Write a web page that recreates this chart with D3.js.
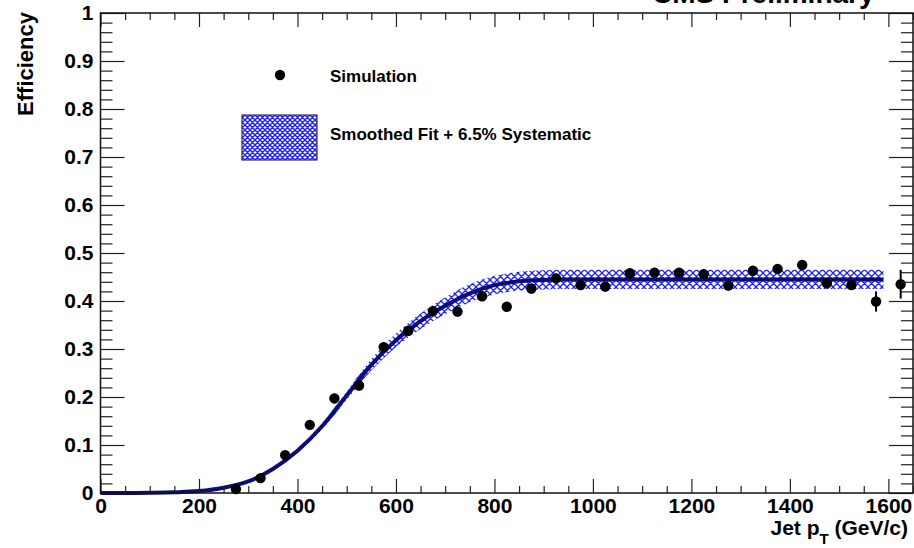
<!DOCTYPE html>
<html><head><meta charset="utf-8">
<script src="https://cdn.jsdelivr.net/npm/d3@7"></script>
<style>
html,body{margin:0;padding:0;background:#fff;}
svg text{font-family:"Liberation Sans",Arial,Helvetica,sans-serif;font-weight:bold;fill:#000;}
</style></head>
<body>
<svg id="c" width="914" height="548"></svg>
<script>
// ---- data ----
const simPt   = [275,325,375,425,475,525,575,625,675,725,775,825,875,925,975,1025,1075,1125,1175,1225,1275,1325,1375,1425,1475,1525,1575,1625];
const simEff  = [0.008,0.031,0.079,0.142,0.197,0.224,0.304,0.338,0.379,0.378,0.410,0.388,0.426,0.447,0.433,0.430,0.458,0.459,0.459,0.456,0.432,0.463,0.467,0.475,0.437,0.433,0.399,0.435];
const simErr  = [0.004,0.006,0.008,0.009,0.010,0.010,0.010,0.010,0.010,0.010,0.010,0.010,0.010,0.010,0.010,0.010,0.010,0.010,0.010,0.010,0.010,0.010,0.010,0.010,0.010,0.010,0.021,0.030];
const fitPt   = [0,50,100,150,200,250,300,350,400,450,500,550,600,650,700,750,800,850,900,950,1000,1100,1200,1300,1400,1500,1590];
const fitEff  = [0,0,0.0005,0.0015,0.004,0.011,0.024,0.050,0.088,0.139,0.203,0.267,0.318,0.358,0.390,0.416,0.433,0.441,0.444,0.445,0.445,0.445,0.445,0.445,0.445,0.445,0.445];
const bandRel = 0.045; // half-width of the hatched band, relative to the fit
const xMajor  = [0,200,400,600,800,1000,1200,1400,1600];
const yMajor  = [0,0.1,0.2,0.3,0.4,0.5,0.6,0.7,0.8,0.9,1];
const yLabels = ["0","0.1","0.2","0.3","0.4","0.5","0.6","0.7","0.8","0.9","1"];
const legendLabels = ["Simulation","Smoothed Fit + 6.5% Systematic"];

const svg = d3.select("#c");
const L=100.5, R=913, T=13, B=493;
const x = d3.scaleLinear().domain([0,1650]).range([L,R]);
const y = d3.scaleLinear().domain([0,1]).range([B,T]);

const defs = svg.append("defs");
function hatch(id, s, w){
  const p = defs.append("pattern").attr("id",id).attr("patternUnits","userSpaceOnUse")
    .attr("width",s).attr("height",s);
  p.append("rect").attr("width",s).attr("height",s).attr("fill","#fff");
  p.append("path").attr("d",`M0,0L${s},${s}M${s},0L0,${s}M${-s/2},${s/2}L${s/2},${s*1.5}M${s/2},${-s/2}L${s*1.5},${s/2}`)
    .attr("stroke","#1f1fff").attr("stroke-width",w).attr("fill","none");
}
hatch("hatchBand",7,1.3);
hatch("hatchLeg",5,1.4);

const fitData = fitPt.map((p,i)=>({p, e:fitEff[i]}));
const curve = d3.curveMonotoneX;

// band
svg.append("path").datum(fitData)
  .attr("d", d3.area().curve(curve).x(d=>x(d.p)).y0(d=>y(d.e*(1-bandRel))).y1(d=>y(d.e*(1+bandRel))))
  .attr("fill","url(#hatchBand)").attr("stroke","none");

// fit line
svg.append("path").datum(fitData)
  .attr("d", d3.line().curve(curve).x(d=>x(d.p)).y(d=>y(d.e)))
  .attr("fill","none").attr("stroke","#0c0c78").attr("stroke-width",4);

// simulation points
const sim = simPt.map((p,i)=>({p,e:simEff[i],err:simErr[i]}));
svg.append("g").selectAll("line").data(sim).join("line")
  .attr("x1",d=>x(d.p)).attr("x2",d=>x(d.p))
  .attr("y1",d=>y(d.e-d.err)).attr("y2",d=>y(d.e+d.err))
  .attr("stroke","#000").attr("stroke-width",2);
svg.append("g").selectAll("circle").data(sim).join("circle")
  .attr("cx",d=>x(d.p)).attr("cy",d=>y(d.e)).attr("r",5.2).attr("fill","#000");

// axes
function styleAxis(g){
  g.select(".domain").remove();
  g.selectAll(".tick line").attr("stroke","#222").attr("stroke-width",1.2);
}
const xMinor = d3.range(0,1651,50).filter(v=>v%200!==0);
const yMinor = d3.range(0,51,1).map(v=>v/50).filter((v,i)=>i%5!==0);

svg.append("g").attr("transform",`translate(0,${B})`)
  .call(d3.axisBottom(x).tickValues(xMinor).tickSize(-7).tickFormat("")).call(styleAxis);
const xa = svg.append("g").attr("transform",`translate(0,${B})`)
  .call(d3.axisBottom(x).tickValues(xMajor).tickSize(-14).tickPadding(5).tickFormat(d=>String(d))).call(styleAxis);
xa.selectAll("text").style("font-size","21px").attr("fill","#000");

svg.append("g").attr("transform",`translate(0,${T})`)
  .call(d3.axisTop(x).tickValues(xMinor).tickSize(-7).tickFormat("")).call(styleAxis);
svg.append("g").attr("transform",`translate(0,${T})`)
  .call(d3.axisTop(x).tickValues(xMajor).tickSize(-14).tickFormat("")).call(styleAxis);

svg.append("g").attr("transform",`translate(${L},0)`)
  .call(d3.axisLeft(y).tickValues(yMinor).tickSize(-12).tickFormat("")).call(styleAxis);
const ya = svg.append("g").attr("transform",`translate(${L},0)`)
  .call(d3.axisLeft(y).tickValues(yMajor).tickSize(-24).tickPadding(7).tickFormat((d,i)=>yLabels[i])).call(styleAxis);
ya.selectAll("text").style("font-size","21px").attr("fill","#000");

svg.append("g").attr("transform",`translate(${R},0)`)
  .call(d3.axisRight(y).tickValues(yMinor).tickSize(-12).tickFormat("")).call(styleAxis);
svg.append("g").attr("transform",`translate(${R},0)`)
  .call(d3.axisRight(y).tickValues(yMajor).tickSize(-24).tickFormat("")).call(styleAxis);

// frame
svg.append("rect").attr("x",L).attr("y",T).attr("width",R-L).attr("height",B-T)
  .attr("fill","none").attr("stroke","#111").attr("stroke-width",1.5);

// axis titles
svg.append("text").attr("transform","translate(33,12) rotate(-90)")
  .attr("text-anchor","end").style("font-size","22px").text("Efficiency");

const xt = svg.append("text").attr("x",908).attr("y",535).attr("text-anchor","end").style("font-size","21px");
xt.append("tspan").text("Jet p");
xt.append("tspan").attr("dy",9).style("font-size","15px").text("T");
xt.append("tspan").attr("dy",-9).text(" (GeV/c)");

// CMS Preliminary (cut by the top edge)
svg.append("text").attr("x",652).attr("y",3).style("font-size","28px").text("CMS Preliminary");

// legend
svg.append("circle").attr("cx",280).attr("cy",75).attr("r",5.2).attr("fill","#000");
svg.append("text").attr("x",330).attr("y",82).style("font-size","17px").text(legendLabels[0]);
svg.append("rect").attr("x",242).attr("y",115).attr("width",75).attr("height",45)
  .attr("fill","url(#hatchLeg)").attr("stroke","#333").attr("stroke-width",1.2);
svg.append("text").attr("x",330).attr("y",140).style("font-size","17px").text(legendLabels[1]);
</script>
</body></html>
